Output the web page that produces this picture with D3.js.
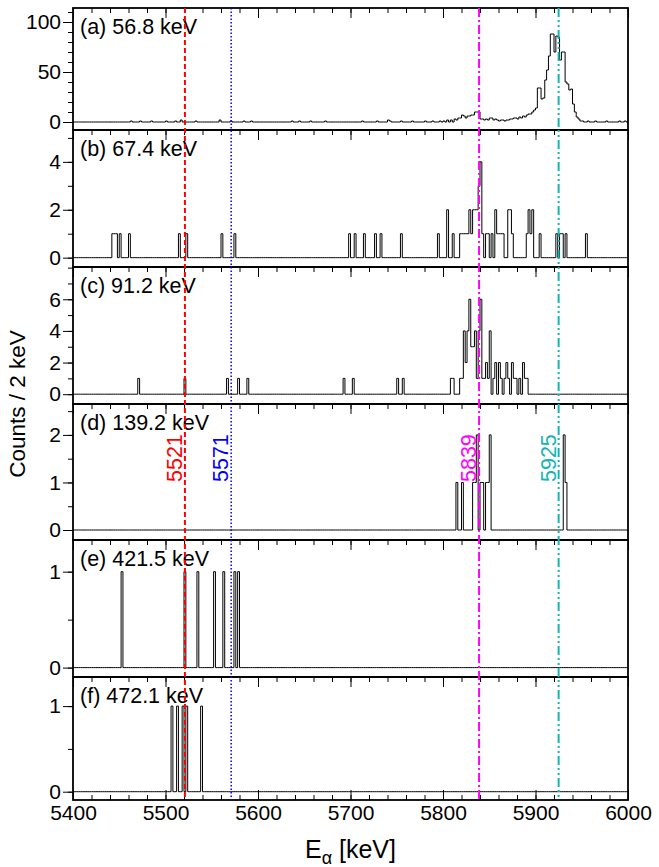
<!DOCTYPE html>
<html>
<head>
<meta charset="utf-8">
<script src="https://cdn.jsdelivr.net/npm/d3@7"></script>
<style>
  body { margin: 0; background: #fff; }
  svg text { font-family: "Liberation Sans", Arial, sans-serif; }
</style>
</head>
<body>
<div id="chart"></div>
<script>
// sparse histogram contents: [bin start (keV), counts], 2 keV bins
const countsA = [
  [5462,1],[5472,1],[5484,1],[5500,1],[5510,1],[5516,2],[5532,1],[5558,2],[5570,1],[5584,1],
  [5592,1],[5636,1],[5644,1],[5656,1],[5672,1],[5712,1],[5728,1],[5740,2],[5742,1],[5754,1],
  [5766,1],[5780,1],[5788,1],[5796,1],[5800,1],[5804,2],[5808,2],[5812,3],[5814,2],[5816,4],
  [5818,4],[5820,7],[5822,6],[5824,4],[5826,6],[5828,6],[5830,7],[5832,7],[5834,10],[5836,10],
  [5838,10],[5840,3],[5842,3],[5844,2],[5846,3],[5848,2],[5850,4],[5852,4],[5854,2],[5856,3],
  [5858,2],[5860,1],[5862,2],[5864,2],[5866,1],[5868,2],[5870,2],[5872,3],[5874,3],[5876,4],
  [5878,4],[5880,3],[5882,5],[5884,4],[5886,6],[5888,5],[5890,7],[5892,8],[5894,8],[5896,10],
  [5898,12],[5900,14],[5902,34],[5904,34],[5906,23],[5908,24],[5910,42],[5912,52],[5914,66],
  [5916,88],[5918,88],[5920,70],[5922,86],[5924,85],[5926,62],[5928,70],[5930,70],[5932,40],
  [5934,38],[5936,32],[5938,33],[5940,18],[5942,10],[5944,5],[5946,3],[5948,1],[5950,1],
  [5956,1],[5964,1],[5976,1],[5990,1],[5996,1]
];
const countsB = [
  [5442,1],[5444,1],[5446,1],[5450,1],[5460,1],[5514,1],[5522,1],[5560,1],[5574,1],[5698,1],
  [5704,1],[5714,1],[5726,1],[5732,1],[5754,1],[5794,1],[5804,2],[5810,1],[5818,1],[5820,1],
  [5822,1],[5824,1],[5826,1],[5828,2],[5830,1],[5832,2],[5834,2],[5836,2],[5838,3],[5840,4],
  [5842,1],[5846,1],[5848,1],[5852,1],[5856,2],[5858,1],[5860,1],[5862,1],[5864,1],[5870,2],
  [5872,2],[5874,1],[5890,1],[5892,2],[5894,1],[5896,2],[5904,1],[5922,1],[5926,1],[5928,1],
  [5932,1],[5954,1]
];
const countsC = [
  [5470,1],[5520,1],[5566,1],[5578,1],[5588,1],[5692,1],[5702,1],[5750,1],[5756,1],[5808,1],
  [5810,1],[5818,1],[5820,1],[5822,4],[5824,2],[5826,4],[5828,6],[5830,3],[5832,3],[5834,4],
  [5836,1],[5838,4],[5840,6],[5842,1],[5844,1],[5846,2],[5848,1],[5850,4],[5854,1],[5856,2],
  [5860,2],[5862,1],[5866,1],[5868,2],[5870,1],[5874,2],[5876,1],[5878,1],[5882,1],[5886,2],
  [5888,1],[5890,1]
];
const countsD = [
  [5814,1],[5820,1],[5832,1],[5834,1],[5836,2],[5840,1],[5842,1],[5846,1],[5848,1],[5850,2],
  [5930,2],[5932,1]
];
const countsE = [[5452,1],[5520,1],[5534,1],[5552,1],[5562,1],[5574,1],[5578,1]];
const countsF = [[5506,1],[5512,1],[5518,1],[5522,1],[5538,1]];

const panelLabels = ["(a) 56.8 keV", "(b) 67.4 keV", "(c) 91.2 keV", "(d) 139.2 keV", "(e) 421.5 keV", "(f) 472.1 keV"];
const yDomains = [[-8, 114], [-0.39, 5.33], [-0.62, 8.04], [-0.21, 2.65], [-0.098, 1.33], [-0.097, 1.34]];
const yMajor = [[0, 50, 100], [0, 2, 4], [0, 2, 4, 6], [0, 1, 2], [0, 1], [0, 1]];
const yMinorStep = [10, 1, 1, 0.5, 0.5, 0.5];

const lineEnergies = [5521, 5571, 5839, 5925];
const lineLabels = ["5521", "5571", "5839", "5925"];
const lineColors = ["#ff0000", "#0000ff", "#ff00ff", "#17b4b4"];
const lineDashes = ["5,3", "1.5,2", "9,3,2,3", "9,3,2,3,2,3"];

const width = 659, height = 867;
const margin = { left: 73, right: 31 };
const panelTops = [8, 130, 267, 404, 540, 677];
const panelBottoms = [130, 267, 404, 540, 677, 800];
const binWidth = 2;

const svg = d3.select("#chart").append("svg")
    .attr("width", width)
    .attr("height", height);

const x = d3.scaleLinear()
    .domain([5400, 6000])
    .range([margin.left, width - margin.right]);

const allCounts = [countsA, countsB, countsC, countsD, countsE, countsF];
const bins = d3.range(5400, 6000, binWidth);

allCounts.forEach((counts, i) => {
    const top = panelTops[i], bottom = panelBottoms[i];
    const y = d3.scaleLinear().domain(yDomains[i]).range([bottom, top]);
    const g = svg.append("g");

    // full histogram from the sparse list
    const lookup = new Map(counts);
    const steps = bins.map(e => [e, lookup.get(e) || 0]);
    steps.push([6000, steps[steps.length - 1][1]]);

    const line = d3.line()
        .x(d => x(d[0]))
        .y(d => y(d[1]))
        .curve(d3.curveStepAfter);

    g.append("path")
        .datum(steps)
        .attr("fill", "none")
        .attr("stroke", "#000")
        .attr("stroke-width", 1)
        .attr("d", line);

    // y axis: minor then major
    const yMinor = d3.range(0, yDomains[i][1], yMinorStep[i]);
    g.append("g")
        .attr("transform", `translate(${margin.left},0)`)
        .call(d3.axisLeft(y).tickValues(yMinor).tickSize(5).tickFormat(""))
        .call(a => a.select(".domain").remove());
    g.append("g")
        .attr("transform", `translate(${margin.left},0)`)
        .call(d3.axisLeft(y).tickValues(yMajor[i]).tickSize(10).tickPadding(2).tickFormat(d3.format("d")))
        .call(a => a.select(".domain").remove())
        .call(a => a.selectAll("text").style("font-size", "21px").attr("fill", "#000"));

    // x ticks on the top edge, pointing in
    g.append("g")
        .attr("transform", `translate(0,${top})`)
        .call(d3.axisTop(x).ticks(30).tickSize(-5).tickFormat(""))
        .call(a => a.select(".domain").remove());
    g.append("g")
        .attr("transform", `translate(0,${top})`)
        .call(d3.axisTop(x).ticks(6).tickSize(-10).tickFormat(""))
        .call(a => a.select(".domain").remove());

    // frame
    g.append("rect")
        .attr("x", margin.left)
        .attr("y", top)
        .attr("width", width - margin.right - margin.left)
        .attr("height", bottom - top)
        .attr("fill", "none")
        .attr("stroke", "#000")
        .attr("stroke-width", 1.8);

    g.append("text")
        .attr("x", margin.left + 7)
        .attr("y", top + 26)
        .style("font-size", "21.5px")
        .text(panelLabels[i]);
});

// bottom axis
const xBottom = panelBottoms[5];
svg.append("g")
    .attr("transform", `translate(0,${xBottom})`)
    .call(d3.axisBottom(x).ticks(30).tickSize(-5).tickFormat(""))
    .call(a => a.select(".domain").remove());
svg.append("g")
    .attr("transform", `translate(0,${xBottom})`)
    .call(d3.axisBottom(x).ticks(6).tickSize(-10).tickPadding(5).tickFormat(d3.format("d")))
    .call(a => a.select(".domain").remove())
    .call(a => a.selectAll("text").style("font-size", "21px").attr("fill", "#000"));

// reference lines across all panels
lineEnergies.forEach((e, i) => {
    svg.append("line")
        .attr("x1", x(e)).attr("x2", x(e))
        .attr("y1", panelTops[0]).attr("y2", xBottom)
        .attr("stroke", lineColors[i])
        .attr("stroke-width", i === 1 ? 1.5 : 2)
        .attr("stroke-dasharray", lineDashes[i]);

    svg.append("text")
        .attr("transform", `translate(${x(e) - 3},${panelTops[3] + 78}) rotate(-90)`)
        .attr("fill", lineColors[i])
        .style("font-size", "21.5px")
        .text(lineLabels[i]);
});

// axis titles
svg.append("text")
    .attr("transform", `translate(25,${(panelTops[0] + xBottom) / 2}) rotate(-90)`)
    .attr("text-anchor", "middle")
    .style("font-size", "22.5px")
    .text("Counts / 2 keV");

const xt = svg.append("text")
    .attr("x", (margin.left + width - margin.right) / 2)
    .attr("y", 858)
    .attr("text-anchor", "middle")
    .style("font-size", "25px");
xt.append("tspan").text("E");
xt.append("tspan").attr("dy", 6).style("font-size", "18px").text("α");
xt.append("tspan").attr("dy", -6).text(" [keV]");
</script>
</body>
</html>
